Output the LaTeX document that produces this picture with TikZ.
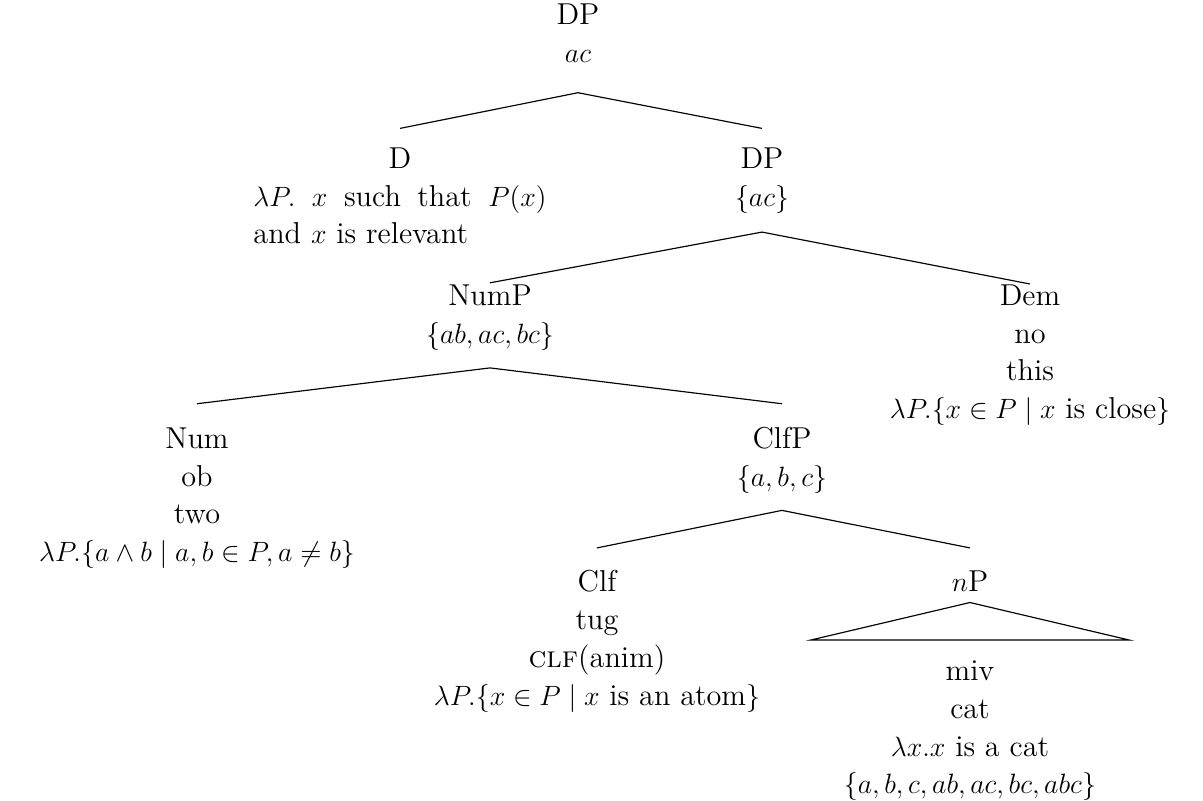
\documentclass[tikz,border=0pt]{standalone}
\usepackage{amsmath,amssymb}
\usepackage{tikz}

\begin{document}
\begin{tikzpicture}[x=0.43pt,y=-0.43pt, every node/.style={font=\fontsize{13}{16.3}\selectfont,align=center,inner sep=0pt,anchor=north}, branch/.style={line width=0.5pt}]
 \useasboundingbox (0,0) rectangle (1203,800);
 \node (dp) at (578,3) {DP\\ $ac$};
 \node (d) at (400,147) {D\\ \parbox[t]{126pt}{$\lambda P.$ $x$ such that $P(x)$\linebreak and $x$ is relevant}};
 \node (dpb) at (762,147) {DP\\ $\{ac\}$};
 \node (nump) at (490,284) {NumP\\ $\{ab, ac, bc\}$};
 \node (dem) at (1030,284) {Dem\\ no\\ this\\ $\lambda P.\{x \in P \mid x \text{ is close}\}$};
 \node (num) at (197,427) {Num\\ ob\\ two\\ $\lambda P.\{a \wedge b \mid a, b \in P, a \neq b\}$};
 \node (clfp) at (782,427) {ClfP\\ $\{a, b, c\}$};
 \node (clf) at (597,570) {Clf\\ tug\\ \textsc{clf}(anim)\\ $\lambda P.\{x \in P \mid x \text{ is an atom}\}$};
 \node (np) at (970,570) {$n$P};
 \node[inner xsep=14pt] (cat) at (970,660) {miv\\ cat\\ $\lambda x.x$ is a cat\\ $\{a, b, c, ab, ac, bc, abc\}$};
 % branches
 \draw[branch] ([yshift=8pt]d.north) -- ([yshift=-13pt]dp.south) -- ([yshift=8pt]dpb.north);
 \draw[branch] ([yshift=0.5pt]nump.north) -- ([yshift=-8pt]dpb.south) -- ([yshift=0pt]dem.north);
 \draw[branch] ([yshift=10pt]num.north) -- ([yshift=-7.5pt]nump.south) -- ([yshift=10pt]clfp.north);
 \draw[branch] ([yshift=9.5pt]clf.north) -- ([yshift=-7pt]clfp.south) -- ([yshift=9.5pt]np.north);
 % roof over the leaf
 \draw[branch] ([yshift=-4.7pt]np.south) -- ([yshift=8.6pt]cat.north west) -- ([yshift=8.6pt]cat.north east) -- cycle;
\end{tikzpicture}
\end{document}
